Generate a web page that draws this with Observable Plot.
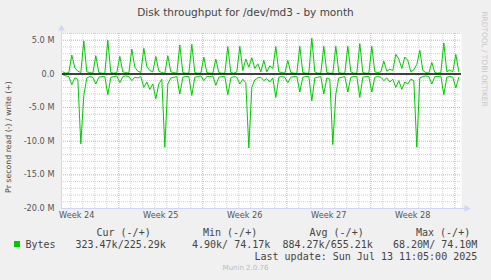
<!DOCTYPE html>
<html><head><meta charset="utf-8">
<script src="https://cdn.jsdelivr.net/npm/d3@7"></script>
<script src="https://cdn.jsdelivr.net/npm/@observablehq/plot@0.6"></script>
<style>
html,body{margin:0;padding:0;background:#f0f0f0;}
#wrap{position:relative;width:491px;height:280px;background:#f0f0f0;font-family:"DejaVu Sans",sans-serif;color:#555;overflow:hidden;}
#title{position:absolute;left:0;top:5px;width:491px;text-align:center;font-size:10.5px;line-height:14px;color:#444;}
#chart{position:absolute;left:0;top:24px;}
#ylab{position:absolute;width:200px;left:-91.5px;top:130.5px;text-align:center;font-size:7.8px;line-height:12px;color:#4a4a4a;transform:rotate(-90deg);white-space:nowrap;}
#rrd{position:absolute;width:120px;left:423.5px;top:52.5px;text-align:center;font-size:7.4px;line-height:12px;color:#c8c8c8;transform:rotate(90deg);white-space:nowrap;}
.mono{position:absolute;font-family:"DejaVu Sans Mono",monospace;font-size:10px;line-height:12px;white-space:pre;color:#444;}
#sw{position:absolute;left:14px;top:241px;width:6px;height:6px;}
#munin{position:absolute;left:0;width:491px;top:263px;text-align:center;font-size:7px;line-height:10px;color:#bbb;}
</style></head>
<body>
<div id="wrap">
  <div id="title"></div>
  <div id="ylab"></div>
  <div id="rrd">RRDTOOL / TOBI OETIKER</div>
  <div id="chart"></div>
  <div id="legend"></div>
  <div id="munin">Munin 2.0.76</div>
</div>
<script>
// ---- data ----
const title = "Disk throughput for /dev/md3 - by month";
const yLabel = "Pr second read (-) / write (+)";
const seriesName = "Bytes";
const seriesColor = "#00cc00";
// sample times in days from the left edge of the graph (6-hour steps)
const sampleStart = 0.11, sampleStep = 0.25;
// write (+), in MB/s
const writeM = [0.3,0.1,0.2,
 2.8,0.9,0.4,0.2, 4.9,0.3,0.2,0.1, 2.7,0.2,0.1,0.1, 5.0,0.2,0.1,0.2,
 2.6,0.3,0.2,0.1, 3.7,1.0,0.4,0.2, 3.8,1.1,0.5,0.3, 2.6,0.4,0.2,0.1,
 2.7,0.3,0.2,0.1, 4.3,0.2,0.1,0.1, 4.4,0.2,0.1,0.1, 2.5,0.2,0.1,0.1,
 2.2,0.2,0.1,0.1, 4.05,0.2,0.1,0.3, 4.1,0.5,2.2,1.0, 2.4,0.8,1.5,0.3,
 2.0,0.3,1.2,0.8, 4.05,0.3,0.2,0.1, 2.0,0.2,0.1,0.1, 4.1,0.2,0.1,0.1,
 5.3,0.3,0.1,0.1, 4.1,0.2,0.1,0.1, 4.1,0.2,0.1,0.1, 4.1,0.3,0.1,0.1,
 4.5,0.2,0.1,0.1, 4.1,0.3,0.2,0.3, 1.9,0.4,0.7,0.5, 2.9,2.2,0.8,2.5,
 2.0,0.3,0.6,1.4, 3.5,0.5,0.2,0.1, 1.7,0.2,0.1,0.2, 4.6,0.3,0.6,0.3,
 2.9,0.3];
// read (-), in MB/s
const readM = [-0.1,-0.3,-0.4,
 -1.6,-0.6,-0.8,-10.4, -3.2,-0.6,-0.4,-0.5, -1.5,-0.5,-0.4,-0.4, -3.1,-0.5,-0.4,-0.3,
 -1.3,-0.4,-0.3,-0.4, -1.0,-0.5,-0.6,-0.4, -2.0,-1.2,-2.3,-1.5, -3.7,-1.5,-0.8,-10.9,
 -1.5,-0.6,-0.5,-0.4, -3.0,-0.5,-0.4,-0.4, -3.2,-0.5,-0.4,-0.3, -1.0,-0.4,-0.4,-0.3,
 -1.7,-0.5,-0.4,-0.4, -3.1,-0.6,-0.4,-0.5, -1.5,-0.8,-1.3,-11.0, -2.0,-0.9,-0.6,-0.5,
 -1.0,-0.7,-1.2,-0.6, -3.5,-0.5,-0.4,-0.5, -1.3,-0.5,-0.4,-0.4, -2.7,-0.5,-0.4,-0.4,
 -4.0,-0.6,-0.5,-0.4, -3.0,-0.6,-0.8,-10.5, -3.0,-0.6,-0.5,-0.4, -2.7,-0.5,-0.4,-0.4,
 -3.5,-0.5,-0.4,-0.4, -2.7,-0.5,-0.4,-0.5, -1.0,-0.6,-1.2,-0.8, -2.0,-1.0,-2.3,-1.2,
 -1.5,-0.8,-1.0,-10.9, -0.6,-0.4,-0.3,-0.4, -1.5,-0.4,-0.4,-0.3, -3.1,-0.5,-0.4,-0.5,
 -2.1,-0.5];
const weekLabels = ["Week 24","Week 25","Week 26","Week 27","Week 28"];
const weekStarts = [4.775, 11.775, 18.775, 25.775, 32.775]; // Monday boundaries (days)
const spanDays = 400 / 12;
const yTicksM = [-20, -15, -10, -5, 0, 5];
const yMinM = -20, yMaxM = 6;
const legendHead = ["Cur (-/+)", "Min (-/+)", "Avg (-/+)", "Max (-/+)"];
const legendVals = ["323.47k/225.29k", " 4.90k/ 74.17k", "884.27k/655.21k", " 68.20M/ 74.10M"];
const lastUpdate = "Last update: Sun Jul 13 11:05:00 2025";

// ---- build ----
document.getElementById("title").textContent = title;
document.getElementById("ylab").textContent = yLabel;

const data = writeM.map((w, i) => ({t: sampleStart + sampleStep * i, w: w * 1e6, r: readM[i] * 1e6}));
const dayLines = d3.range(0.775, spanDays, 1).filter(d => !weekStarts.some(w => Math.abs(w - d) < 1e-6));
const minorY = d3.range(yMinM + 1, yMaxM + 1).filter(v => v % 5 !== 0).map(v => v * 1e6);
const majorY = yTicksM.filter(v => v !== 0 && v !== yMinM).map(v => v * 1e6);
const weekMid = weekStarts.map(w => w - 3.5);
const labelAt = new Map(weekMid.map((m, i) => [m, weekLabels[i]]));
const axisCol = "#cfd6f8";
const gridCol = "#cfcfcf";
const mgridCol = "#f2a2a2";

const chart = Plot.plot({
  width: 491, height: 204,
  marginLeft: 61, marginRight: 30, marginTop: 9, marginBottom: 20,
  style: {background: "transparent", fontFamily: "DejaVu Sans, sans-serif", fontSize: "8.2px", color: "#555", overflow: "visible"},
  x: {domain: [0, spanDays], ticks: weekMid, tickFormat: d => labelAt.get(d), tickSize: 0, tickPadding: 4, label: null},
  y: {domain: [yMinM * 1e6, yMaxM * 1e6], ticks: yTicksM.map(v => v * 1e6),
      tickFormat: d => d === 0 ? "0.0" : (d / 1e6).toFixed(1) + " M", tickSize: 0, tickPadding: 7, label: null},
  marks: [
    Plot.frame({fill: "white", stroke: "none"}),
    Plot.ruleX(dayLines, {stroke: gridCol, strokeDasharray: "1,1"}),
    Plot.ruleY(minorY, {stroke: gridCol, strokeDasharray: "1,1"}),
    Plot.ruleX(weekStarts, {stroke: mgridCol, strokeDasharray: "1,1"}),
    Plot.ruleY(majorY, {stroke: mgridCol, strokeDasharray: "1,1"}),
    Plot.line(data, {x: "t", y: "w", stroke: seriesColor, strokeWidth: 1}),
    Plot.line(data, {x: "t", y: "r", stroke: seriesColor, strokeWidth: 1}),
    Plot.ruleY([0], {stroke: "#000", strokeWidth: 1.5}),
    Plot.ruleX([0], {stroke: axisCol, insetTop: -4}),
    Plot.ruleY([yMinM * 1e6], {stroke: axisCol, insetRight: -4}),
    Plot.dot([0], {x: () => 0, y: () => yMaxM * 1e6, dy: -5, symbol: "triangle", r: 2.6, fill: axisCol, stroke: "none"}),
    Plot.dot([0], {x: () => spanDays, y: () => yMinM * 1e6, dx: 5, symbol: "triangle", r: 2.6, rotate: 90, fill: axisCol, stroke: "none"})
  ]
});
document.getElementById("chart").appendChild(chart);

// legend
const leg = document.getElementById("legend");
function put(text, left, top) {
  const d = document.createElement("div");
  d.className = "mono"; d.textContent = text;
  d.style.left = left + "px"; d.style.top = top + "px";
  leg.appendChild(d);
}
const sw = document.createElement("div"); sw.id = "sw"; sw.style.background = seriesColor; leg.appendChild(sw);
const headX = [96.5, 203, 309.5, 416];
const valX = [75.5, 186, 282.5, 387];
legendHead.forEach((h, i) => put(h, headX[i], 226.5));
put(seriesName, 25.5, 238.5);
legendVals.forEach((v, i) => put(v, valX[i], 238.5));
put(lastUpdate, 254.5, 250.5);
</script>
</body></html>
